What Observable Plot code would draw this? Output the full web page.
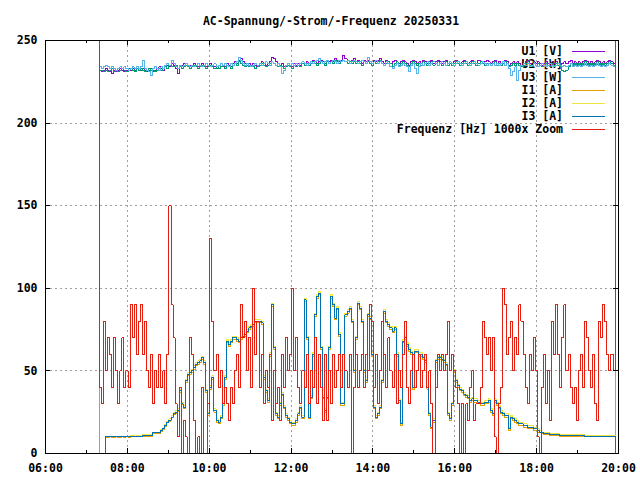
<!DOCTYPE html>
<html><head><meta charset="utf-8">
<script src="https://cdn.jsdelivr.net/npm/d3@7"></script>
<script src="https://cdn.jsdelivr.net/npm/@observablehq/plot@0.6"></script>
<style>
body{margin:0;background:#fff;font-family:"DejaVu Sans Mono",monospace;font-weight:bold;color:#000;}
#title{height:30px;position:relative;width:640px;}
#title span{position:absolute;left:22px;right:0;top:10px;text-align:center;font-size:11.5px;line-height:22px;white-space:pre;}
#chart svg{display:block;}
</style></head><body>
<div id="title"><span>AC-Spannung/-Strom/-Frequenz 20250331</span></div>
<div id="chart"></div>
<script>
// ---- data (3-minute samples starting 07:16) ----
const U1 = [0,
232,231,232,233,232,231,230,232,231,232,233,232,
231,232,233,232,233,232,234,233,232,233,232,231,
232,233,231,232,233,234,233,232,234,235,234,236,
235,233,230,234,235,236,235,234,235,234,236,235,
234,235,236,235,234,235,236,235,234,233,235,236,
235,234,236,235,234,236,237,236,238,239,237,236,
235,236,235,236,235,234,236,237,236,235,236,237,
240,239,237,236,235,236,234,235,236,235,234,236,
235,236,235,237,236,237,236,237,238,237,236,237,
238,237,236,238,237,238,237,239,238,237,238,241,
239,238,237,238,239,237,238,237,236,238,237,238,
237,236,238,237,238,239,237,236,238,237,236,237,
238,237,236,237,238,237,236,235,237,238,237,236,
237,236,238,237,236,237,238,236,237,238,237,236,
237,238,236,237,236,237,238,237,236,237,238,237,
236,237,238,237,236,238,237,236,237,238,237,236,
237,238,236,237,236,237,238,237,235,236,237,236,
237,236,235,236,237,238,236,235,237,236,237,236,
235,236,237,236,235,237,236,237,236,235,236,237,
236,237,238,236,237,236,237,236,237,238,237,236,
237,236,237,238,237,236,237,236,237,238,237,236,
0];
const U2 = [0,
232,232,231,232,231,232,233,231,232,231,232,233,
232,231,232,233,232,231,233,232,233,232,231,232,
233,232,232,231,232,233,232,233,234,233,235,234,
234,235,233,234,233,234,235,234,233,234,235,234,
233,234,235,234,233,234,235,234,233,234,233,234,
234,233,235,234,233,235,236,235,237,236,235,234,
235,234,235,234,233,234,235,236,235,234,235,236,
237,236,235,234,235,234,233,234,235,234,233,235,
234,235,234,236,235,236,235,236,237,236,235,236,
237,236,235,237,236,237,236,238,237,236,237,238,
237,236,237,236,237,236,237,236,235,237,236,237,
236,235,237,236,237,238,236,235,236,237,236,234,
236,237,235,236,237,236,235,234,236,237,236,235,
236,235,237,236,235,236,237,235,236,237,236,235,
236,237,235,236,235,236,237,236,235,236,237,236,
235,236,237,236,235,236,237,236,235,236,236,235,
236,237,235,236,235,236,237,236,234,235,236,235,
236,235,234,235,236,237,235,234,236,235,236,235,
234,235,236,235,234,236,235,236,235,234,232,231,
232,234,236,235,236,235,236,235,236,237,236,235,
236,235,236,237,236,235,236,235,236,237,236,235,
0];
const U3 = [0,
234,233,234,235,234,233,234,233,232,233,234,233,
234,233,232,233,234,233,234,233,234,238,233,232,
231,229,233,234,233,232,234,233,235,236,235,238,
236,234,233,235,234,235,236,235,234,235,234,235,
236,235,234,235,236,235,234,235,236,234,235,236,
235,236,235,234,236,235,236,237,240,238,236,235,
236,235,234,235,236,235,236,235,236,237,236,235,
237,236,235,236,234,230,232,235,236,235,236,235,
236,235,236,237,236,235,236,237,236,237,238,239,
237,236,237,238,236,237,238,237,236,238,237,238,
237,238,236,237,238,237,236,237,238,237,236,240,
237,236,237,238,236,237,236,235,237,236,234,233,
235,236,234,235,236,235,234,231,235,236,233,230,
234,236,235,236,237,235,236,237,236,235,236,237,
236,235,236,237,236,235,236,237,236,235,236,237,
236,235,236,237,236,235,236,237,236,235,236,235,
236,235,236,235,236,237,235,236,233,229,231,234,
226,232,235,236,235,236,234,235,236,235,234,235,
236,235,234,235,236,235,234,235,236,235,234,235,
234,235,236,234,235,234,235,234,235,236,235,234,
235,234,235,236,235,234,235,234,235,236,235,234,
0];
const I1 = [0,
0,0,0,9.5,9.5,10,9.5,9.5,10,9.5,9.5,10,
9.5,10,9.5,10,10,10,10,10,10,10.5,10.5,10.5,
10.5,10.5,12,12,12,12,13.5,14.5,16.5,18.5,19.5,21.5,
23.5,24.5,25.5,37,29.5,27.5,43,47,48,49,51,53,
54,55,57,54,37,23,39,45,25,19,18,21,
29,45,67,65,67,69,69,68,67,69,70,71,
73,75,76,77,79,79,79,78,45,37,31,59,
89,63,23,21,29,35,27,22,20,18,17,17,
19,23,27,21,92,69,21,33,59,83,94,96,
63,33,25,33,63,94,89,81,87,71,29,29,
83,85,87,79,49,69,90,87,79,49,43,83,
81,59,27,21,23,27,43,85,79,77,75,73,
75,59,31,17,67,69,65,62,60,39,61,61,
59,59,57,55,39,23,15,19,55,57,57,56,
55,53,23,20,29,49,43,40,38,37,35,34,
33,31,32,31,31,30,29,29,30,30,31,25,
23,31,29,27,24,23,22,22,14,21,20,19,
18,17,17,16,16,15,15,15,14,14,13,12.5,
12,11.5,11.5,11.5,11,11,11,11,11,10.5,10.5,10.5,
10.5,10.5,10.5,10.5,10.5,10.5,10.5,10.5,10.5,10,10,10,
10,10,10,10,10,10,10,10,10,10,10,10,
0];
const I2 = [0,
0,0,0,10,10.5,10.5,10,10.5,10.5,10,10.5,10.5,
10.5,10,10.5,11,11,10.5,11,11,10.5,11.5,11.5,11,
11.5,11.5,12.5,13,13,12.5,14.5,15.5,17.5,19.5,21,23,
25,26,27,39,31,29,45,49,50,51,53,55,
56,57,59,56,39,25,41,47,27,21,20,23,
31,47,69,67,69,71,71,70,69,71,72,73,
75,77,78,79,81,81,81,80,47,39,33,61,
91,65,25,23,31,37,29,24,22,20,19,19,
21,25,29,23,94,71,23,35,61,85,96,98,
65,35,27,35,65,96,91,83,89,73,31,31,
85,87,89,81,51,71,92,89,81,51,45,85,
83,61,29,23,25,29,45,87,81,79,77,75,
77,61,33,19,69,71,67,64,62,41,63,63,
61,61,59,57,41,25,17,21,57,59,59,58,
57,55,25,22,31,51,45,42,40,39,37,36,
35,33,34,33,33,32,31,31,32,32,33,27,
25,33,31,29,26,25,24,24,16,23,22,21,
20,19,19,18,18,17,17,17,16,16,15,14,
13,13,12.5,12.5,12,12,12,12,12,11.5,11.5,11.5,
11.5,11.5,11.5,11.5,11.5,11.5,11.5,11.5,11.5,11,11,11,
11,11,11,11,11,11,11,11,11,11,11,11,
0];
const I3 = [0,
0,0,0,10,10,10,10,10,10,10,10,10,
10,10,10,10.5,10.5,10.5,10.5,10.5,10.5,11,11,11,
11,11,12.5,12.5,12.5,12.5,14,15,17,19,20,22,
24,25,26,38,30,28,44,48,49,50,52,54,
55,56,58,55,38,24,40,46,26,20,19,22,
30,46,68,66,68,70,70,69,68,70,71,72,
74,76,77,78,80,80,80,79,46,38,32,60,
90,64,24,22,30,36,28,23,21,19,18,18,
20,24,28,22,93,70,22,34,60,84,95,97,
64,34,26,34,64,95,90,82,88,72,30,30,
84,86,88,80,50,70,91,88,80,50,44,84,
82,60,28,22,24,28,44,86,80,78,76,74,
76,60,32,18,68,70,66,63,61,40,62,62,
60,60,58,56,40,24,16,20,56,58,58,57,
56,54,24,21,30,50,44,41,39,38,36,35,
34,32,33,32,32,31,30,30,31,31,32,26,
24,32,30,28,25,24,23,23,15,22,21,20,
19,18,18,17,17,16,16,16,15,15,14,13,
12.5,12,12,12,11.5,11.5,11.5,11.5,11.3,11,11,11,
11,11,11,11,11,11,11,11,11,10.5,10.5,10.5,
10.5,10.5,10.5,10.5,10.5,10.5,10.5,10.5,10.5,10.5,10.5,10.5,
0];
const FREQ = [300,40,
30,80,50,70,60,40,70,50,30,50,70,40,50,40,
90,70,90,60,80,90,60,80,50,40,60,30,50,40,
60,40,50,30,60,
150,90,70,30,10,40,0,20,10,0,70,60,20,0,10,0,40,0,0,30,130,80,50,60,40,50,30,40,30,20,40,30,50,60,40,90,70,80,50,70,40,100,60,80,40,60,30,50,40,60,20,50,
30,40,20,60,40,70,50,60,100,50,70,40,30,50,40,60,30,50,40,70,30,60,40,20,60,20,50,30,60,40,50,60,40,60,50,40,60,0,40,60,40,50,60,40,60,50,90,80,40,60,30,50,80,60,40,70,50,40,60,30,50,40,60,80,40,30,50,60,40,50,60,40,50,60,40,50,
30,0,40,60,50,60,50,60,80,50,60,50,40,30,0,30,0,30,20,40,50,20,30,30,40,80,70,60,70,50,70,10,0,30,40,100,90,60,70,80,50,70,60,90,80,60,40,30,60,50,70,50,10,0,40,60,30,50,20,80,60,90,60,40,70,90,50,60,40,30,40,20,50,60,40,80,70,50,40,60,30,20,80,70,90,80,60,50,60,50,
300];

const seriesNames = ["U1 [V]","U2 [W]","U3 [W]","I1 [A]","I2 [A]","I3 [A]","Frequenz [Hz] 1000x Zoom"];
const seriesColors = ["#9400d3","#009e73","#56b4e9","#e69f00","#f0e442","#0072b2","#e51e10"];
const seriesValues = [U1,U2,U3,I1,I2,I3,FREQ];
const xTickLabels = ["06:00","08:00","10:00","12:00","14:00","16:00","18:00","20:00"];
const yTicks = [0,50,100,150,200,250];

// ---- build ----
const day = (h, m) => new Date(Date.UTC(2025, 2, 31, h, m));
const startTime = day(7, 16).getTime();
const stepMs = 3 * 60000;
const rows = seriesValues.map(vals => vals.map((v, i) => ({t: new Date(startTime + i * stepMs), v})));
const xTickDates = xTickLabels.map(s => day(+s.slice(0, 2), +s.slice(3)));
const fmt = d3.utcFormat("%H:%M");

const chart = Plot.plot({
  width: 640, height: 450,
  marginLeft: 45, marginRight: 22, marginTop: 10, marginBottom: 27,
  style: {fontFamily: '"DejaVu Sans Mono", monospace', fontSize: "11.5px", fontWeight: "bold", color: "#000", background: "#fff"},
  x: {type: "utc", domain: [xTickDates[0], xTickDates[xTickDates.length - 1]]},
  y: {domain: [0, 250]},
  marks: [
    Plot.gridX(xTickDates, {stroke: "#a0a0a0", strokeOpacity: 1, strokeDasharray: "2,3", shapeRendering: "crispEdges"}),
    Plot.gridY(yTicks, {stroke: "#a0a0a0", strokeOpacity: 1, strokeDasharray: "2,3", shapeRendering: "crispEdges"}),
    Plot.axisX(xTickDates, {tickSize: 0, tickPadding: 10, tickFormat: fmt, label: null, fill: "#000"}),
    Plot.axisY(yTicks, {tickSize: 0, tickPadding: 8, label: null, fill: "#000"}),
    ...rows.map((r, j) => Plot.line(r, {x: "t", y: "v", stroke: seriesColors[j], strokeWidth: 1, curve: "step-after", clip: true, shapeRendering: "crispEdges"})),
    Plot.frame({stroke: "#000", strokeWidth: 1, shapeRendering: "crispEdges"})
  ]
});
document.getElementById("chart").appendChild(chart);

// inward ticks (major + minor), drawn from the library's scales
const svgSel = d3.select(chart);
const xs = chart.scale("x"), ys = chart.scale("y");
const frameTop = 10, frameBottom = 423, frameLeft = 45, frameRight = 618;
const tg = svgSel.append("g").attr("stroke", "#000").attr("stroke-width", 1).attr("shape-rendering", "crispEdges");
for (let h = 6; h <= 20; h++) {
  const px = Math.round(xs.apply(day(h, 0))) + 0.5;
  const major = h % 2 === 0;
  tg.append("line").attr("x1", px).attr("x2", px).attr("y1", frameBottom).attr("y2", frameBottom - (major ? 5 : 3));
  tg.append("line").attr("x1", px).attr("x2", px).attr("y1", frameTop).attr("y2", frameTop + (major ? 5 : 3));
}
for (const v of yTicks) {
  const py = Math.round(ys.apply(v)) + 0.5;
  tg.append("line").attr("x1", frameLeft).attr("x2", frameLeft + 5).attr("y1", py).attr("y2", py);
  tg.append("line").attr("x1", frameRight).attr("x2", frameRight - 5).attr("y1", py).attr("y2", py);
}

// legend (drawn beneath the curves, as in the original)
const leg = svgSel.insert("g", 'g[aria-label="line"]');
seriesNames.forEach((name, j) => {
  const yy = 20.7 + j * 13;
  leg.append("text").attr("x", 563).attr("y", yy).attr("dy", "0.36em").attr("text-anchor", "end").attr("fill", "#000").text(name);
  leg.append("line").attr("x1", 572).attr("x2", 605).attr("y1", Math.round(yy) + 0.5).attr("y2", Math.round(yy) + 0.5)
    .attr("stroke", seriesColors[j]).attr("stroke-width", 1).attr("shape-rendering", "crispEdges");
});
</script>
</body></html>
